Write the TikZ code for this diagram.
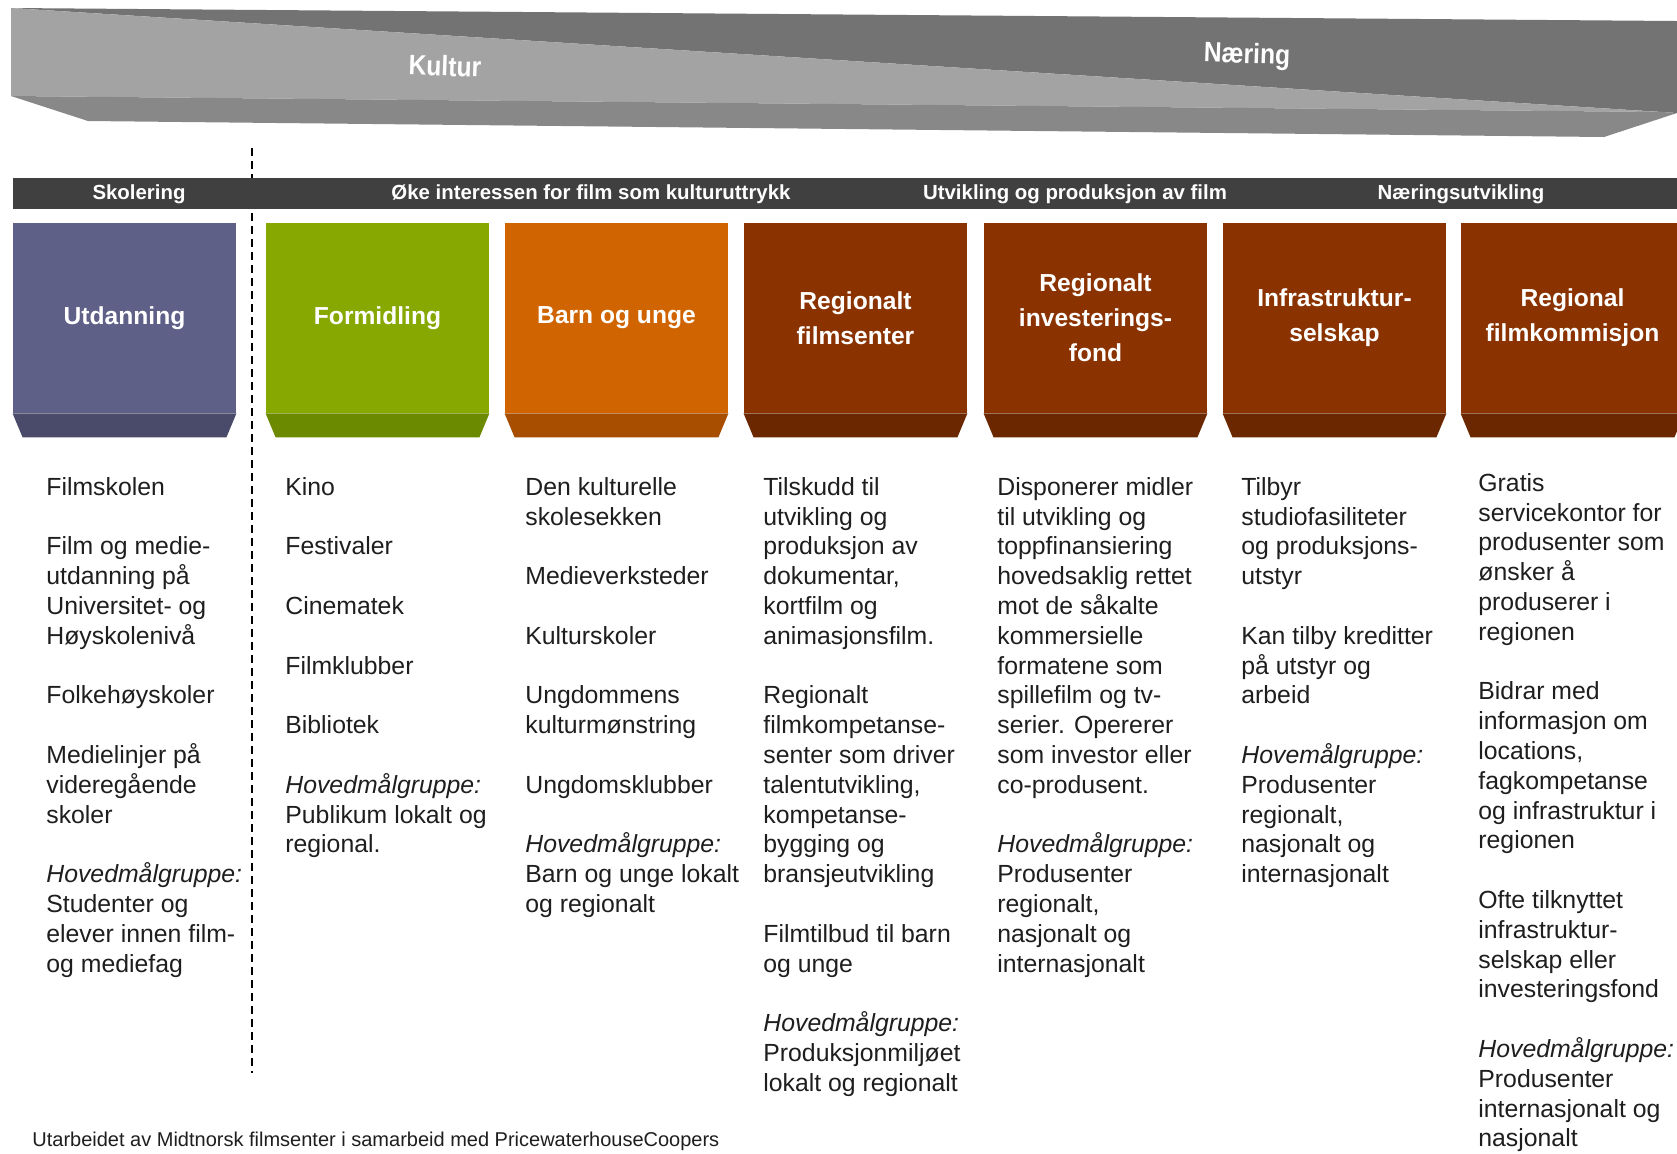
\documentclass[tikz,border=0pt]{standalone}
\usepackage{fontspec}
\setmainfont{Liberation Sans}
\newfontfamily\wedgefont[FakeStretch=0.88]{Liberation Sans}
\definecolor{utd}{HTML}{5E6087}
\definecolor{utdD}{HTML}{4A4B6A}
\definecolor{form}{HTML}{86A800}
\definecolor{formD}{HTML}{6C8A00}
\definecolor{barn}{HTML}{CF6400}
\definecolor{barnD}{HTML}{A84E00}
\definecolor{brn}{HTML}{8A3300}
\definecolor{brnD}{HTML}{6B2700}
\definecolor{barbg}{HTML}{404040}
\definecolor{wlight}{HTML}{A3A3A3}
\definecolor{wdark}{HTML}{737373}
\definecolor{wmid}{HTML}{888888}
\definecolor{txt}{HTML}{1E1E1E}
\begin{document}
\begin{tikzpicture}[x=0.5pt,y=-0.5pt,
  wedgetext/.style={text=white,inner sep=0,font=\wedgefont\bfseries\fontsize{14}{16}\selectfont},
  hdr/.style={text=white,inner sep=0,font=\bfseries\fontsize{10.2}{12}\selectfont},
  colbox/.style={minimum width=111.5pt,minimum height=95pt,inner sep=0,align=center,text=white,
    font=\bfseries\fontsize{12.3}{17.5}\selectfont},
  body/.style={anchor=north west,inner sep=0,align=left,text=txt,font=\fontsize{12.4}{14.9}\selectfont},
  foot/.style={anchor=west,inner sep=0,text=txt,font=\fontsize{10}{12}\selectfont}]
\clip (0,0) rectangle (1677,1153);
\fill[white] (0,0) rectangle (1677,1153);
% top wedge
\fill[wdark] (11,8) -- (1677,21) -- (1677,113) -- (1662,112) -- cycle;
\fill[wlight] (11,8) -- (1662,112) -- (11,96) -- cycle;
\fill[wmid] (11,96) -- (1662,112) -- (1677,113) -- (1604,137) -- (88,121) -- cycle;
\node[wedgetext,rotate=-2] (kultur) at (445,66) {Kultur};
\node[wedgetext,rotate=-2] (naering) at (1247,56) {Næring};
% dashed divider
\coordinate (dtop) at (252,148);
\coordinate (dbot) at (252,1073);
\draw[line width=1pt,dash pattern=on 4pt off 2.5pt] (dtop) -- (dbot);
% header bar
\fill[barbg] (13,178) rectangle (1677,209);
\node[hdr] (h1) at (139,194) {Skolering};
\node[hdr] (h2) at (591,194) {Øke interessen for film som kulturuttrykk};
\node[hdr] (h3) at (1075,194) {Utvikling og produksjon av film};
\node[hdr] (h4) at (1461,194) {Næringsutvikling};
% column boxes
\node[colbox,fill=utd]  (b1) at (124.5,318) {Utdanning};
\node[colbox,fill=form] (b2) at (377.5,318) {Formidling};
\node[colbox,fill=barn] (b3) at (616.5,318) {Barn og unge};
\node[colbox,fill=brn]  (b4) at (855.5,318) {Regionalt\\filmsenter};
\node[colbox,fill=brn]  (b5) at (1095.5,318) {Regionalt\\investerings-\\fond};
\node[colbox,fill=brn]  (b6) at (1334.5,318) {Infrastruktur-\\selskap};
\node[colbox,fill=brn]  (b7) at (1572.5,318) {Regional\\filmkommisjon};
\foreach \b/\c in {b1/utdD,b2/formD,b3/barnD,b4/brnD,b5/brnD,b6/brnD,b7/brnD}
  \fill[\c] (\b.south west) -- (\b.south east) -- ([xshift=-5pt,yshift=-12pt]\b.south east)
    -- ([xshift=5pt,yshift=-12pt]\b.south west) -- cycle;
% column texts
\node[body] (t1) at (46,477) {Filmskolen\\[14.9pt]
Film og medie-\\utdanning på\\Universitet- og\\Høyskolenivå\\[14.9pt]
Folkehøyskoler\\[14.9pt]
Medielinjer på\\videregående\\skoler\\[14.9pt]
\textit{Hovedmålgruppe:}\\Studenter og\\elever innen film-\\og mediefag};
\node[body] (t2) at (285,477) {Kino\\[14.9pt]
Festivaler\\[14.9pt]
Cinematek\\[14.9pt]
Filmklubber\\[14.9pt]
Bibliotek\\[14.9pt]
\textit{Hovedmålgruppe:}\\Publikum lokalt og\\regional.};
\node[body] (t3) at (525,477) {Den kulturelle\\skolesekken\\[14.9pt]
Medieverksteder\\[14.9pt]
Kulturskoler\\[14.9pt]
Ungdommens\\kulturmønstring\\[14.9pt]
Ungdomsklubber\\[14.9pt]
\textit{Hovedmålgruppe:}\\Barn og unge lokalt\\og regionalt};
\node[body] (t4) at (763,477) {Tilskudd til\\utvikling og\\produksjon av\\dokumentar,\\kortfilm og\\animasjonsfilm.\\[14.9pt]
Regionalt\\filmkompetanse-\\senter som driver\\talentutvikling,\\kompetanse-\\bygging og\\bransjeutvikling\\[14.9pt]
Filmtilbud til barn\\og unge\\[14.9pt]
\textit{Hovedmålgruppe:}\\Produksjonmiljøet\\lokalt og regionalt};
\node[body] (t5) at (997,477) {Disponerer midler\\til utvikling og\\toppfinansiering\\hovedsaklig rettet\\mot de såkalte\\kommersielle\\formatene som\\spillefilm og tv-\\serier. Opererer\\som investor eller\\co-produsent.\\[14.9pt]
\textit{Hovedmålgruppe:}\\Produsenter\\regionalt,\\nasjonalt og\\internasjonalt};
\node[body] (t6) at (1241,477) {Tilbyr\\studiofasiliteter\\og produksjons-\\utstyr\\[14.9pt]
Kan tilby kreditter\\på utstyr og\\arbeid\\[14.9pt]
\textit{Hovemålgruppe:}\\Produsenter\\regionalt,\\nasjonalt og\\internasjonalt};
\node[body] (t7) at (1478,473) {Gratis\\servicekontor for\\produsenter som\\ønsker å\\produserer i\\regionen\\[14.9pt]
Bidrar med\\informasjon om\\locations,\\fagkompetanse\\og infrastruktur i\\regionen\\[14.9pt]
Ofte tilknyttet\\infrastruktur-\\selskap eller\\investeringsfond\\[14.9pt]
\textit{Hovedmålgruppe:}\\Produsenter\\internasjonalt og\\nasjonalt};
% footer
\node[foot] (credit) at (32,1141) {Utarbeidet av Midtnorsk filmsenter i samarbeid med PricewaterhouseCoopers};
\end{tikzpicture}
\end{document}
